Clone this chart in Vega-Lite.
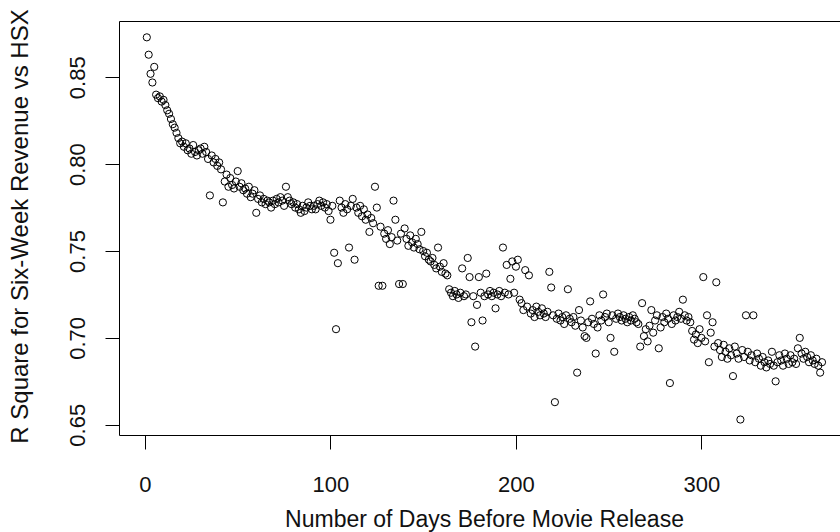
{
"$schema": "https://vega.github.io/schema/vega-lite/v6.json",
"width": 721,
"height": 414,
"autosize": {"type": "none"},
"padding": {"left": 119, "top": 21, "right": 0, "bottom": 97},
"background": "white",
"config": {"view": {"stroke": null}, "font": "Liberation Sans"},
"data": {"values": [
{"d":1,"r":0.873},{"d":2,"r":0.863},{"d":3,"r":0.852},{"d":4,"r":0.847},{"d":5,"r":0.856},{"d":6,"r":0.840},{"d":7,"r":0.838},{"d":8,"r":0.839},{"d":9,"r":0.836},{"d":10,"r":0.837},
{"d":11,"r":0.834},{"d":12,"r":0.831},{"d":13,"r":0.829},{"d":14,"r":0.826},{"d":15,"r":0.823},{"d":16,"r":0.821},{"d":17,"r":0.818},{"d":18,"r":0.815},{"d":19,"r":0.812},{"d":20,"r":0.813},
{"d":21,"r":0.810},{"d":22,"r":0.812},{"d":23,"r":0.808},{"d":24,"r":0.809},{"d":25,"r":0.806},{"d":26,"r":0.811},{"d":27,"r":0.807},{"d":28,"r":0.805},{"d":29,"r":0.808},{"d":30,"r":0.809},
{"d":31,"r":0.806},{"d":32,"r":0.810},{"d":33,"r":0.807},{"d":34,"r":0.803},{"d":35,"r":0.782},{"d":36,"r":0.805},{"d":37,"r":0.801},{"d":38,"r":0.803},{"d":39,"r":0.799},{"d":40,"r":0.801},
{"d":41,"r":0.797},{"d":42,"r":0.778},{"d":43,"r":0.790},{"d":44,"r":0.794},{"d":45,"r":0.787},{"d":46,"r":0.792},{"d":47,"r":0.788},{"d":48,"r":0.786},{"d":49,"r":0.790},{"d":50,"r":0.796},
{"d":51,"r":0.787},{"d":52,"r":0.789},{"d":53,"r":0.785},{"d":54,"r":0.786},{"d":55,"r":0.783},{"d":56,"r":0.787},{"d":57,"r":0.781},{"d":58,"r":0.783},{"d":59,"r":0.785},{"d":60,"r":0.772},
{"d":61,"r":0.780},{"d":62,"r":0.782},{"d":63,"r":0.778},{"d":64,"r":0.780},{"d":65,"r":0.777},{"d":66,"r":0.779},{"d":67,"r":0.778},{"d":68,"r":0.775},{"d":69,"r":0.779},{"d":70,"r":0.777},
{"d":71,"r":0.780},{"d":72,"r":0.778},{"d":73,"r":0.781},{"d":74,"r":0.779},{"d":75,"r":0.776},{"d":76,"r":0.787},{"d":77,"r":0.781},{"d":78,"r":0.779},{"d":79,"r":0.777},{"d":80,"r":0.778},
{"d":81,"r":0.775},{"d":82,"r":0.777},{"d":83,"r":0.774},{"d":84,"r":0.772},{"d":85,"r":0.776},{"d":86,"r":0.773},{"d":87,"r":0.775},{"d":88,"r":0.778},{"d":89,"r":0.776},{"d":90,"r":0.774},
{"d":91,"r":0.776},{"d":92,"r":0.774},{"d":93,"r":0.777},{"d":94,"r":0.779},{"d":95,"r":0.776},{"d":96,"r":0.778},{"d":97,"r":0.775},{"d":98,"r":0.777},{"d":99,"r":0.773},{"d":100,"r":0.768},
{"d":101,"r":0.776},{"d":102,"r":0.749},{"d":103,"r":0.705},{"d":104,"r":0.743},{"d":105,"r":0.779},{"d":106,"r":0.775},{"d":107,"r":0.772},{"d":108,"r":0.777},{"d":109,"r":0.774},{"d":110,"r":0.752},
{"d":111,"r":0.776},{"d":112,"r":0.780},{"d":113,"r":0.745},{"d":114,"r":0.775},{"d":115,"r":0.772},{"d":116,"r":0.776},{"d":117,"r":0.770},{"d":118,"r":0.774},{"d":119,"r":0.768},{"d":120,"r":0.771},
{"d":121,"r":0.761},{"d":122,"r":0.769},{"d":123,"r":0.766},{"d":124,"r":0.787},{"d":125,"r":0.775},{"d":126,"r":0.730},{"d":127,"r":0.764},{"d":128,"r":0.730},{"d":129,"r":0.760},{"d":130,"r":0.757},
{"d":131,"r":0.762},{"d":132,"r":0.754},{"d":133,"r":0.758},{"d":134,"r":0.779},{"d":135,"r":0.768},{"d":136,"r":0.756},{"d":137,"r":0.731},{"d":138,"r":0.760},{"d":139,"r":0.731},{"d":140,"r":0.763},
{"d":141,"r":0.757},{"d":142,"r":0.753},{"d":143,"r":0.759},{"d":144,"r":0.755},{"d":145,"r":0.752},{"d":146,"r":0.757},{"d":147,"r":0.754},{"d":148,"r":0.751},{"d":149,"r":0.761},{"d":150,"r":0.750},
{"d":151,"r":0.747},{"d":152,"r":0.749},{"d":153,"r":0.745},{"d":154,"r":0.744},{"d":155,"r":0.746},{"d":156,"r":0.742},{"d":157,"r":0.740},{"d":158,"r":0.752},{"d":159,"r":0.741},{"d":160,"r":0.738},
{"d":161,"r":0.743},{"d":162,"r":0.737},{"d":163,"r":0.736},{"d":164,"r":0.728},{"d":165,"r":0.726},{"d":166,"r":0.724},{"d":167,"r":0.727},{"d":168,"r":0.725},{"d":169,"r":0.723},{"d":170,"r":0.726},
{"d":171,"r":0.740},{"d":172,"r":0.724},{"d":173,"r":0.725},{"d":174,"r":0.746},{"d":175,"r":0.735},{"d":176,"r":0.709},{"d":177,"r":0.724},{"d":178,"r":0.695},{"d":179,"r":0.719},{"d":180,"r":0.735},
{"d":181,"r":0.726},{"d":182,"r":0.710},{"d":183,"r":0.724},{"d":184,"r":0.737},{"d":185,"r":0.725},{"d":186,"r":0.727},{"d":187,"r":0.724},{"d":188,"r":0.726},{"d":189,"r":0.717},{"d":190,"r":0.725},
{"d":191,"r":0.727},{"d":192,"r":0.724},{"d":193,"r":0.752},{"d":194,"r":0.726},{"d":195,"r":0.742},{"d":196,"r":0.725},{"d":197,"r":0.734},{"d":198,"r":0.744},{"d":199,"r":0.726},{"d":200,"r":0.741},
{"d":201,"r":0.745},{"d":202,"r":0.722},{"d":203,"r":0.720},{"d":204,"r":0.716},{"d":205,"r":0.739},{"d":206,"r":0.718},{"d":207,"r":0.736},{"d":208,"r":0.714},{"d":209,"r":0.716},{"d":210,"r":0.712},
{"d":211,"r":0.718},{"d":212,"r":0.715},{"d":213,"r":0.713},{"d":214,"r":0.717},{"d":215,"r":0.714},{"d":216,"r":0.712},{"d":217,"r":0.715},{"d":218,"r":0.738},{"d":219,"r":0.729},{"d":220,"r":0.713},
{"d":221,"r":0.663},{"d":222,"r":0.711},{"d":223,"r":0.714},{"d":224,"r":0.710},{"d":225,"r":0.712},{"d":226,"r":0.708},{"d":227,"r":0.713},{"d":228,"r":0.728},{"d":229,"r":0.711},{"d":230,"r":0.709},
{"d":231,"r":0.712},{"d":232,"r":0.707},{"d":233,"r":0.680},{"d":234,"r":0.716},{"d":235,"r":0.710},{"d":236,"r":0.706},{"d":237,"r":0.701},{"d":238,"r":0.700},{"d":239,"r":0.709},{"d":240,"r":0.721},
{"d":241,"r":0.711},{"d":242,"r":0.708},{"d":243,"r":0.691},{"d":244,"r":0.706},{"d":245,"r":0.713},{"d":246,"r":0.710},{"d":247,"r":0.725},{"d":248,"r":0.712},{"d":249,"r":0.714},{"d":250,"r":0.709},
{"d":251,"r":0.700},{"d":252,"r":0.713},{"d":253,"r":0.692},{"d":254,"r":0.711},{"d":255,"r":0.714},{"d":256,"r":0.712},{"d":257,"r":0.710},{"d":258,"r":0.713},{"d":259,"r":0.711},{"d":260,"r":0.709},
{"d":261,"r":0.712},{"d":262,"r":0.710},{"d":263,"r":0.713},{"d":264,"r":0.711},{"d":265,"r":0.709},{"d":266,"r":0.708},{"d":267,"r":0.695},{"d":268,"r":0.720},{"d":269,"r":0.701},{"d":270,"r":0.705},
{"d":271,"r":0.698},{"d":272,"r":0.707},{"d":273,"r":0.716},{"d":274,"r":0.703},{"d":275,"r":0.710},{"d":276,"r":0.713},{"d":277,"r":0.694},{"d":278,"r":0.706},{"d":279,"r":0.712},{"d":280,"r":0.709},
{"d":281,"r":0.714},{"d":282,"r":0.711},{"d":283,"r":0.674},{"d":284,"r":0.708},{"d":285,"r":0.713},{"d":286,"r":0.710},{"d":287,"r":0.712},{"d":288,"r":0.715},{"d":289,"r":0.711},{"d":290,"r":0.722},
{"d":291,"r":0.713},{"d":292,"r":0.710},{"d":293,"r":0.712},{"d":294,"r":0.709},{"d":295,"r":0.704},{"d":296,"r":0.699},{"d":297,"r":0.702},{"d":298,"r":0.697},{"d":299,"r":0.705},{"d":300,"r":0.700},
{"d":301,"r":0.735},{"d":302,"r":0.698},{"d":303,"r":0.713},{"d":304,"r":0.686},{"d":305,"r":0.703},{"d":306,"r":0.709},{"d":307,"r":0.695},{"d":308,"r":0.732},{"d":309,"r":0.697},{"d":310,"r":0.693},
{"d":311,"r":0.689},{"d":312,"r":0.696},{"d":313,"r":0.692},{"d":314,"r":0.688},{"d":315,"r":0.694},{"d":316,"r":0.690},{"d":317,"r":0.678},{"d":318,"r":0.695},{"d":319,"r":0.691},{"d":320,"r":0.688},
{"d":321,"r":0.653},{"d":322,"r":0.693},{"d":323,"r":0.689},{"d":324,"r":0.713},{"d":325,"r":0.692},{"d":326,"r":0.687},{"d":327,"r":0.690},{"d":328,"r":0.713},{"d":329,"r":0.686},{"d":330,"r":0.691},
{"d":331,"r":0.688},{"d":332,"r":0.684},{"d":333,"r":0.689},{"d":334,"r":0.686},{"d":335,"r":0.683},{"d":336,"r":0.687},{"d":337,"r":0.685},{"d":338,"r":0.692},{"d":339,"r":0.684},{"d":340,"r":0.675},
{"d":341,"r":0.686},{"d":342,"r":0.690},{"d":343,"r":0.687},{"d":344,"r":0.684},{"d":345,"r":0.691},{"d":346,"r":0.688},{"d":347,"r":0.685},{"d":348,"r":0.690},{"d":349,"r":0.686},{"d":350,"r":0.688},
{"d":351,"r":0.685},{"d":352,"r":0.694},{"d":353,"r":0.700},{"d":354,"r":0.691},{"d":355,"r":0.688},{"d":356,"r":0.692},{"d":357,"r":0.689},{"d":358,"r":0.686},{"d":359,"r":0.690},{"d":360,"r":0.687},
{"d":361,"r":0.685},{"d":362,"r":0.688},{"d":363,"r":0.684},{"d":364,"r":0.680},{"d":365,"r":0.686}
]},
"layer": [
{
"mark": {"type": "point", "shape": "circle", "filled": false, "stroke": "#000000", "strokeWidth": 1, "size": 52, "opacity": 1},
"encoding": {
"x": {"field": "d", "type": "quantitative", "scale": {"domain": [-14, 374.7], "nice": false, "zero": false},
 "axis": {"orient": "bottom", "values": [0, 100, 200, 300], "format": "d", "grid": false,
  "domainColor": "#000000", "domainWidth": 1, "tickColor": "#000000", "tickSize": 14, "tickWidth": 1,
  "labelFont": "Liberation Sans", "labelFontSize": 22, "labelColor": "#111111", "labelBaseline": "alphabetic", "labelAlign": "center", "labelPadding": 42, "labelFlush": false, "labelOverlap": false,
  "title": "Number of Days Before Movie Release", "titleFont": "Liberation Sans", "titleFontSize": 23, "titleFontWeight": "normal", "titleColor": "#111111",
  "titleBaseline": "alphabetic", "titleAlign": "center", "titleAnchor": null, "titleX": 365, "titleY": 91}},
"y": {"field": "r", "type": "quantitative", "scale": {"domain": [0.6441, 0.8824], "nice": false, "zero": false},
 "axis": {"orient": "left", "values": [0.65, 0.70, 0.75, 0.80, 0.85], "format": ".2f", "grid": false,
  "domainColor": "#000000", "domainWidth": 1, "tickColor": "#000000", "tickSize": 14, "tickWidth": 1,
  "labelFont": "Liberation Sans", "labelFontSize": 22, "labelColor": "#111111", "labelAngle": -90, "labelAlign": "center", "labelBaseline": "alphabetic", "labelPadding": 21, "labelFlush": false, "labelOverlap": false,
  "title": "R Square for Six-Week Revenue vs HSX", "titleFont": "Liberation Sans", "titleFontSize": 24, "titleFontWeight": "normal", "titleColor": "#111111",
  "titleAngle": -90, "titleBaseline": "alphabetic", "titleAlign": "center", "titleAnchor": null, "titleX": -92, "titleY": 205}}
}
},
{
"mark": {"type": "point", "opacity": 0},
"encoding": {
"x": {"field": "d", "type": "quantitative", "axis": {"orient": "top", "labels": false, "ticks": false, "title": null, "grid": false, "domain": true, "domainColor": "#000000", "domainWidth": 1}},
"y": {"field": "r", "type": "quantitative", "axis": null}
}
}
],
"resolve": {"axis": {"x": "independent", "y": "independent"}}
}
